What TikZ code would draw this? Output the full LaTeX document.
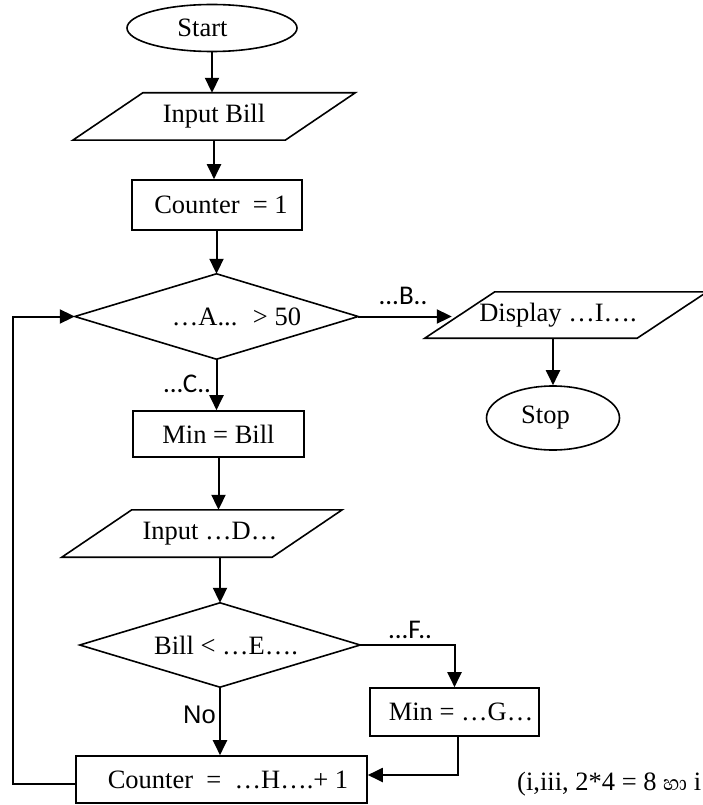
\documentclass[tikz,border=0pt]{standalone}
\usepackage{fontspec}
\setmainfont{Liberation Serif}
\newfontfamily\lblfont{Carlito}
\newfontfamily\arialfont{Liberation Sans}
\newfontfamily\sinhalafont[Script=Sinhala]{Abhaya Libre}
\usetikzlibrary{shapes.geometric,arrows.meta,calc}
\begin{document}
\begin{tikzpicture}[x=1pt,y=-1pt,
  every node/.style={font=\fontsize{26.5}{31}\selectfont},
  box/.style={draw,line width=1.6pt,inner sep=0pt},
  term/.style={ellipse,draw,line width=1.6pt,inner sep=0pt},
  io/.style={inner sep=0pt},
  ln/.style={line width=1.6pt},
  arr/.style={line width=2pt,-{Triangle[length=15pt,width=14pt]}},
  lbl/.style={font=\lblfont\fontsize{27}{31}\selectfont,inner sep=0pt},
  nolbl/.style={font=\arialfont\fontsize{25.5}{30}\selectfont,inner sep=0pt}]
\useasboundingbox (0,0) rectangle (703,805);

% nodes
\node[term,minimum width=170pt,minimum height=47pt] (start) at (212,28) {\hspace*{-19pt}Start};
\node[io,minimum width=282pt,minimum height=47pt] (inbill) at (214,116.5) {Input Bill};
\node[box,minimum width=170pt,minimum height=50pt] (c1) at (217,205) {\hspace*{8pt}Counter\ \ = 1};
\node[io,minimum width=283pt,minimum height=85pt] (dA) at (216.5,316.5) {\hspace*{40pt}…A... \ > 50};
\node[io,minimum width=282pt,minimum height=46pt] (disp) at (566,315) {\hspace*{-16pt}Display …I….};
\node[term,minimum width=133pt,minimum height=64pt] (stop) at (553,418) {\hspace*{-15pt}Stop};
\node[box,minimum width=171pt,minimum height=46pt] (mb) at (218.5,434) {Min = Bill};
\node[io,minimum width=280pt,minimum height=47pt] (inD) at (202,533.5) {\hspace*{16pt}Input …D…};
\node[io,minimum width=280pt,minimum height=84pt] (dE) at (220,645) {\hspace*{12pt}Bill < …E….};
\node[box,minimum width=169pt,minimum height=48pt] (mG) at (454.5,712) {\hspace*{13pt}Min = …G…};
\node[box,minimum width=291pt,minimum height=47pt] (cH) at (221.5,779.5) {\hspace*{13pt}Counter\ \ = \ …H….+ 1};

% parallelogram outlines
\draw[ln] ($(inbill.north west)+(70,0)$) -- (inbill.north east) -- ($(inbill.south east)+(-70,0)$) -- (inbill.south west) -- cycle;
\draw[ln] ($(disp.north west)+(70,0)$) -- (disp.north east) -- ($(disp.south east)+(-70,0)$) -- (disp.south west) -- cycle;
\draw[ln] ($(inD.north west)+(70,0)$) -- (inD.north east) -- ($(inD.south east)+(-70,0)$) -- (inD.south west) -- cycle;
% diamond outlines
\draw[ln] (dA.north) -- (dA.east) -- (dA.south) -- (dA.west) -- cycle;
\draw[ln] (dE.north) -- (dE.east) -- (dE.south) -- (dE.west) -- cycle;

% labels
\node[lbl] (lB) at (403,296) {...B..};
\node[lbl] (lC) at (187,384) {...C..};
\node[lbl] (lF) at (410,630) {...F..};
\node[nolbl,anchor=east] (lNo) at (216,715) {No};
\node[anchor=base west,inner sep=0pt] (note) at (517,790) {(i,iii, 2*4 = 8 {\sinhalafont හා} i};

% connectors
\coordinate (dispin) at ($(disp.west)+(27,0)$);
\coordinate (turn) at (458,775);
\coordinate (loopbot) at (13,784);
\draw[arr] (start.south) -- (start.south |- inbill.north);
\draw[arr] (inbill.south) -- (inbill.south |- c1.north);
\draw[arr] (dA.north |- c1.south) -- (dA.north);
\draw[arr] (dA.east) -- (dA.east -| dispin);
\draw[arr] (stop.north |- disp.south) -- (stop.north);
\draw[arr] (dA.south) -- (dA.south |- mb.north);
\draw[arr] (mb.south) -- (mb.south |- inD.north);
\draw[arr] (dE.north |- inD.south) -- (dE.north);
\draw[arr] (dE.south) -- (dE.south |- cH.north);
\draw[arr] (dE.east) -| (mG.north);
\draw[arr] (mG.south -| turn) -- (turn) -- (turn -| cH.east);
\draw[arr] (cH.west |- loopbot) -- (loopbot) |- (dA.west);
\end{tikzpicture}
\end{document}
